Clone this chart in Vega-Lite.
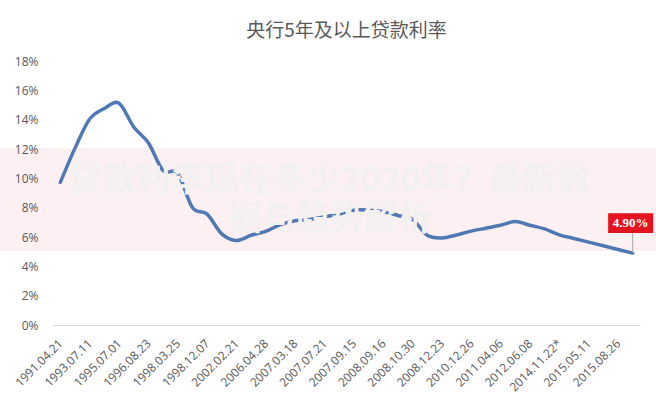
{
  "$schema": "https://vega.github.io/schema/vega-lite/v6.json",
  "autosize": {"type": "none"},
  "width": 587,
  "height": 264,
  "padding": {"left": 53, "top": 61, "right": 16, "bottom": 75},
  "background": "white",
  "title": {
    "text": "央行5年及以上贷款利率",
    "font": "Noto Sans CJK SC",
    "fontSize": 19,
    "fontWeight": "normal",
    "color": "#595959",
    "offset": 14,
    "anchor": "middle"
  },
  "config": {"view": {"stroke": null}},
  "datasets": {
    "rates": [
      {"date": "1991.04.21", "rate": 9.72},
      {"date": "1993.05.15", "rate": 12.06},
      {"date": "1993.07.11", "rate": 14.04},
      {"date": "1995.01.01", "rate": 14.76},
      {"date": "1995.07.01", "rate": 15.12},
      {"date": "1996.05.01", "rate": 13.5},
      {"date": "1996.08.23", "rate": 12.42},
      {"date": "1997.10.23", "rate": 10.53},
      {"date": "1998.03.25", "rate": 10.35},
      {"date": "1998.07.01", "rate": 8.01},
      {"date": "1998.12.07", "rate": 7.56},
      {"date": "1999.06.10", "rate": 6.21},
      {"date": "2002.02.21", "rate": 5.76},
      {"date": "2004.10.29", "rate": 6.12},
      {"date": "2006.04.28", "rate": 6.39},
      {"date": "2006.08.19", "rate": 6.84},
      {"date": "2007.03.18", "rate": 7.11},
      {"date": "2007.05.19", "rate": 7.2},
      {"date": "2007.07.21", "rate": 7.38},
      {"date": "2007.08.22", "rate": 7.56},
      {"date": "2007.09.15", "rate": 7.83},
      {"date": "2007.12.21", "rate": 7.83},
      {"date": "2008.09.16", "rate": 7.74},
      {"date": "2008.10.09", "rate": 7.47},
      {"date": "2008.10.30", "rate": 7.2},
      {"date": "2008.11.27", "rate": 6.12},
      {"date": "2008.12.23", "rate": 5.94},
      {"date": "2010.10.20", "rate": 6.14},
      {"date": "2010.12.26", "rate": 6.4},
      {"date": "2011.02.09", "rate": 6.6},
      {"date": "2011.04.06", "rate": 6.8},
      {"date": "2011.07.07", "rate": 7.05},
      {"date": "2012.06.08", "rate": 6.8},
      {"date": "2012.07.06", "rate": 6.55},
      {"date": "2014.11.22*", "rate": 6.15},
      {"date": "2015.03.01", "rate": 5.9},
      {"date": "2015.05.11", "rate": 5.65},
      {"date": "2015.06.28", "rate": 5.4},
      {"date": "2015.08.26", "rate": 5.15},
      {"date": "2015.10.24", "rate": 4.9}
    ],
    "band": [{"date": "2007.07.21", "rate": 8.56}],
    "watermark": [
      {"date": "2007.07.21", "rate": 9.85, "text": "贷款利率现在多少2020年？最新数"},
      {"date": "2007.07.21", "rate": 7.15, "text": "据与趋势解析"}
    ],
    "last": [{"date": "2015.10.24", "rate": 4.9, "label": "4.90%"}]
  },
  "encoding": {
    "x": {
      "field": "date",
      "type": "ordinal",
      "sort": null,
      "scale": {
        "type": "point",
        "padding": 0.5,
        "domain": ["1991.04.21", "1993.05.15", "1993.07.11", "1995.01.01", "1995.07.01", "1996.05.01", "1996.08.23", "1997.10.23", "1998.03.25", "1998.07.01", "1998.12.07", "1999.06.10", "2002.02.21", "2004.10.29", "2006.04.28", "2006.08.19", "2007.03.18", "2007.05.19", "2007.07.21", "2007.08.22", "2007.09.15", "2007.12.21", "2008.09.16", "2008.10.09", "2008.10.30", "2008.11.27", "2008.12.23", "2010.10.20", "2010.12.26", "2011.02.09", "2011.04.06", "2011.07.07", "2012.06.08", "2012.07.06", "2014.11.22*", "2015.03.01", "2015.05.11", "2015.06.28", "2015.08.26", "2015.10.24"]
      },
      "axis": {
        "title": null,
        "values": ["1991.04.21", "1993.07.11", "1995.07.01", "1996.08.23", "1998.03.25", "1998.12.07", "2002.02.21", "2006.04.28", "2007.03.18", "2007.07.21", "2007.09.15", "2008.09.16", "2008.10.30", "2008.12.23", "2010.12.26", "2011.04.06", "2012.06.08", "2014.11.22*", "2015.05.11", "2015.08.26"],
        "labelAngle": -45,
        "labelAlign": "right",
        "labelBaseline": "middle",
        "labelFont": "Open Sans",
        "labelFontSize": 12,
        "labelColor": "#595959",
        "labelPadding": 16,
        "ticks": false,
        "tickSize": 0,
        "domainColor": "#d9d9d9",
        "domainWidth": 1,
        "grid": false,
        "labelOverlap": false
      }
    },
    "y": {
      "field": "rate",
      "type": "quantitative",
      "scale": {"domain": [0, 18], "nice": false},
      "axis": {
        "title": null,
        "values": [0, 2, 4, 6, 8, 10, 12, 14, 16, 18],
        "labelExpr": "datum.value + '%'",
        "labelOverlap": false,
        "labelFont": "Open Sans",
        "labelFontSize": 12,
        "labelColor": "#595959",
        "labelPadding": 15,
        "ticks": false,
        "tickSize": 0,
        "domain": false,
        "grid": false,
        "zindex": 1
      }
    }
  },
  "layer": [
    {
      "data": {"name": "band"},
      "mark": {"type": "point", "shape": "M-1,-0.157H1V0.157H-1Z", "size": 430336, "filled": true, "fill": "#fcf0f2", "opacity": 1, "strokeWidth": 0, "xOffset": 3.5}
    },
    {
      "data": {"name": "rates"},
      "mark": {"type": "line", "interpolate": "cardinal", "color": "#5079b4", "strokeWidth": 3.5, "strokeCap": "round"}
    },
    {
      "data": {"name": "watermark"},
      "mark": {"type": "text", "font": "Noto Sans CJK SC", "fontSize": 34, "fontWeight": "bold", "color": "#f3f0f0", "align": "center", "baseline": "middle", "dx": 5},
      "encoding": {
        "text": {"field": "text"}
      }
    },
    {
      "data": {"name": "last"},
      "mark": {"type": "rule", "color": "#a6a6a6", "strokeWidth": 1, "y2Offset": -20, "x2Offset": -2},
      "encoding": {
        "y2": {"field": "rate"}
      }
    },
    {
      "data": {"name": "last"},
      "mark": {"type": "point", "shape": "M-1,-0.444H1V0.444H-1Z", "size": 2025, "filled": true, "fill": "#e5131f", "opacity": 1, "strokeWidth": 0, "xOffset": -2, "yOffset": -30}
    },
    {
      "data": {"name": "last"},
      "mark": {"type": "text", "font": "Liberation Sans Narrow", "fontSize": 13, "fontWeight": "bold", "color": "white", "align": "center", "baseline": "middle", "dx": -2, "dy": -30},
      "encoding": {
        "text": {"field": "label"}
      }
    }
  ]
}
